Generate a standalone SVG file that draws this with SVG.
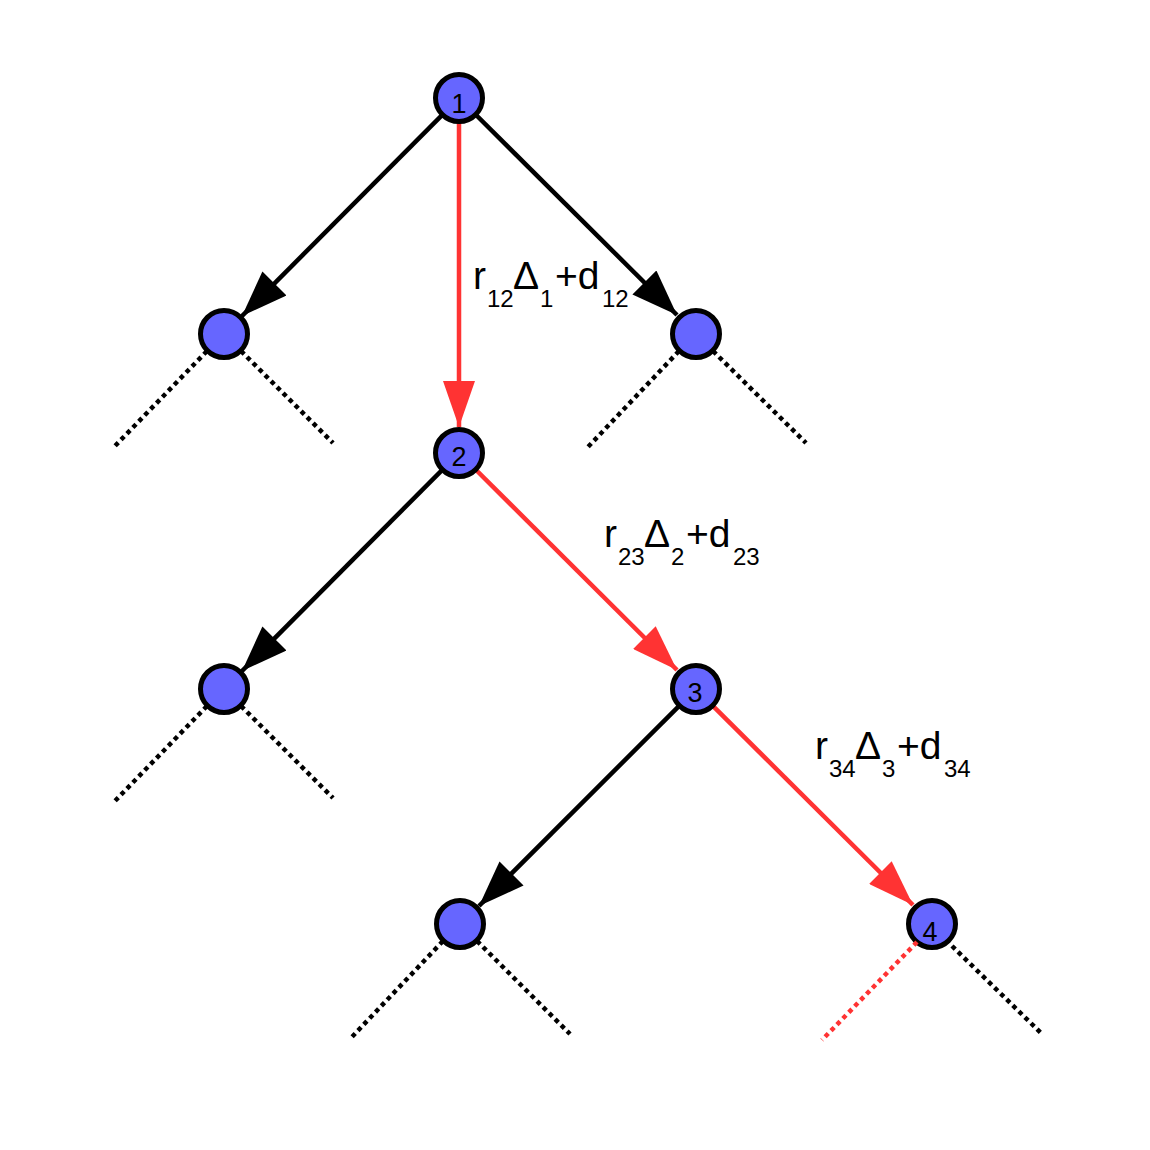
<svg xmlns="http://www.w3.org/2000/svg" width="1150" height="1150" viewBox="0 0 1150 1150">
<style>
.node{fill:#6666FF;stroke:#000;stroke-width:5}
.num{font-family:"Liberation Sans",Arial,sans-serif;font-size:27px;fill:#000;text-anchor:middle}
.blk{stroke:#000;stroke-width:4.5;fill:none}
.red{stroke:#FF3333;stroke-width:4.5;fill:none}
.dot{stroke:#000;stroke-width:4.5;stroke-dasharray:4.5 4;fill:none}
.dotr{stroke:#FF3333;stroke-width:4.5;stroke-dasharray:4.5 4;fill:none}
.lbl{font-family:"Liberation Sans",Arial,sans-serif;fill:#000}
.m{font-size:39px}
.s{font-size:24px}
</style>
<defs>
<marker id="ab" markerUnits="userSpaceOnUse" markerWidth="46" markerHeight="34" refX="46" refY="17" orient="auto" viewBox="0 0 46 34">
<path d="M0,0 L46,17 L0,34 Z" fill="#000"/>
</marker>
<marker id="ar" markerUnits="userSpaceOnUse" markerWidth="46" markerHeight="32" refX="46" refY="16" orient="auto" viewBox="0 0 46 32">
<path d="M0,0 L46,16 L0,32 Z" fill="#FF3333"/>
</marker>
</defs>
<g id="connectors">
<line class="blk" x1="443.5" y1="113.6" x2="242" y2="316" marker-end="url(#ab)"/>
<line class="blk" x1="474.6" y1="113.5" x2="677" y2="315" marker-end="url(#ab)"/>
<line class="red" x1="459" y1="120" x2="459" y2="427" marker-end="url(#ar)"/>
<line class="blk" x1="443.5" y1="468.6" x2="242" y2="671" marker-end="url(#ab)"/>
<line class="red" x1="474.6" y1="468.5" x2="677" y2="670" marker-end="url(#ar)"/>
<line class="blk" x1="680.4" y1="704.6" x2="479" y2="906" marker-end="url(#ab)"/>
<line class="red" x1="711.6" y1="704.6" x2="913" y2="905" marker-end="url(#ar)"/>
</g>
<g id="node1"><circle class="node" cx="459" cy="98" r="23.5"/><text class="num" x="459" y="113">1</text></g>
<g id="nodeL1"><circle class="node" cx="224" cy="334" r="23.5"/></g>
<g id="nodeR1"><circle class="node" cx="696" cy="334" r="23.5"/></g>
<g id="node2"><circle class="node" cx="459" cy="453" r="23.5"/><text class="num" x="459" y="466">2</text></g>
<g id="nodeL2"><circle class="node" cx="224" cy="689" r="23.5"/></g>
<g id="node3"><circle class="node" cx="696" cy="689" r="23.5"/><text class="num" x="695" y="702">3</text></g>
<g id="nodeL3"><circle class="node" cx="460" cy="924" r="23.5"/></g>
<g id="node4"><circle class="node" cx="932" cy="924" r="23.5"/><text class="num" x="930" y="941">4</text></g>
<g id="dotted">
<line class="dot" x1="207" y1="351" x2="113" y2="448"/>
<line class="dot" x1="241" y1="351" x2="333" y2="443"/>
<line class="dot" x1="679" y1="351" x2="587" y2="448"/>
<line class="dot" x1="713" y1="351" x2="806" y2="443"/>
<line class="dot" x1="207" y1="706" x2="113" y2="803"/>
<line class="dot" x1="241" y1="706" x2="333" y2="798"/>
<line class="dot" x1="443" y1="941" x2="350" y2="1039"/>
<line class="dot" x1="477" y1="941" x2="570" y2="1034"/>
<line class="dotr" x1="917" y1="942" x2="822" y2="1040"/>
<line class="dot" x1="952" y1="946" x2="1042" y2="1034"/>
</g>
<g id="label12">
<text class="lbl m" x="473" y="289">r</text>
<text class="lbl s" x="487" y="307">12</text>
<text class="lbl m" x="513" y="289">Δ</text>
<text class="lbl s" x="540" y="307">1</text>
<text class="lbl m" x="555" y="289">+d</text>
<text class="lbl s" x="602" y="307">12</text>
</g>
<g id="label23" transform="translate(131,258)">
<text class="lbl m" x="473" y="289">r</text>
<text class="lbl s" x="487" y="307">23</text>
<text class="lbl m" x="513" y="289">Δ</text>
<text class="lbl s" x="540" y="307">2</text>
<text class="lbl m" x="555" y="289">+d</text>
<text class="lbl s" x="602" y="307">23</text>
</g>
<g id="label34" transform="translate(342,470)">
<text class="lbl m" x="473" y="289">r</text>
<text class="lbl s" x="487" y="307">34</text>
<text class="lbl m" x="513" y="289">Δ</text>
<text class="lbl s" x="540" y="307">3</text>
<text class="lbl m" x="555" y="289">+d</text>
<text class="lbl s" x="602" y="307">34</text>
</g>
</svg>
